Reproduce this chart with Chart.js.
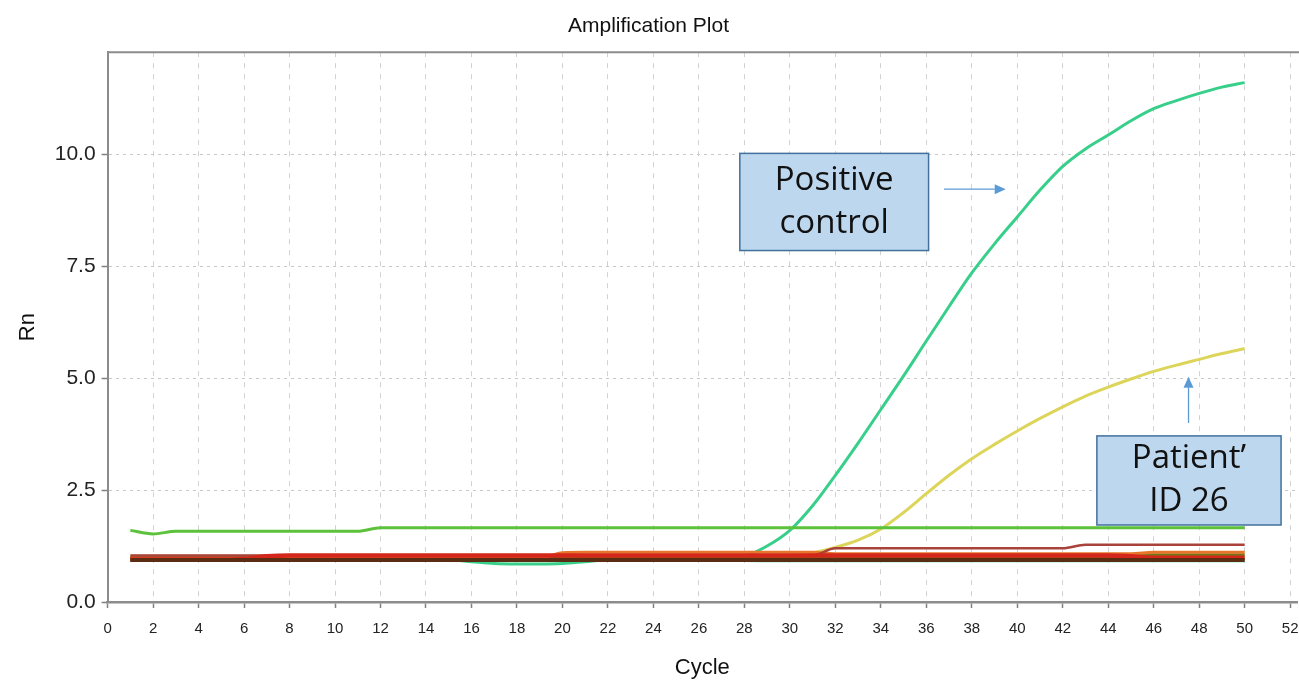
<!DOCTYPE html>
<html>
<head>
<meta charset="utf-8">
<title>Amplification Plot</title>
<script src="https://cdn.jsdelivr.net/npm/chart.js@4.4.1/dist/chart.umd.min.js"></script>
<style>
  html, body { margin: 0; padding: 0; background: #ffffff; }
  canvas { display: block; }
</style>
</head>
<body>
<canvas id="amp" width="1299" height="684"></canvas>
<script>
// PCR cycle numbers
const cycles = [1,2,3,4,5,6,7,8,9,10,11,12,13,14,15,16,17,18,19,20,21,22,23,24,25,26,27,28,29,30,31,32,33,34,35,36,37,38,39,40,41,42,43,44,45,46,47,48,49,50];

// Normalised reporter signal (Rn) per well
const positiveControl = [0.94,0.94,0.94,0.94,0.94,0.94,0.94,0.94,0.94,0.94,0.94,0.94,0.94,0.94,0.94,0.90,0.86,0.85,0.85,0.86,0.90,0.94,0.94,0.94,0.94,0.94,0.95,1.02,1.25,1.60,2.15,2.83,3.55,4.30,5.05,5.83,6.60,7.35,8.00,8.60,9.20,9.73,10.12,10.43,10.75,11.02,11.20,11.36,11.50,11.60];
const patient26 = [1.02,1.02,1.02,1.02,1.02,1.02,1.02,1.02,1.02,1.02,1.02,1.02,1.02,1.02,1.02,1.02,1.02,1.02,1.02,1.02,1.02,1.02,1.02,1.02,1.02,1.02,1.02,1.02,1.02,1.02,1.10,1.22,1.38,1.63,2.00,2.42,2.83,3.20,3.52,3.82,4.10,4.36,4.60,4.80,4.98,5.15,5.29,5.42,5.55,5.66];
const wellGreen = [1.60,1.52,1.58,1.58,1.58,1.58,1.58,1.58,1.58,1.58,1.58,1.66,1.66,1.66,1.66,1.66,1.66,1.66,1.66,1.66,1.66,1.66,1.66,1.66,1.66,1.66,1.66,1.66,1.66,1.66,1.66,1.66,1.66,1.66,1.66,1.66,1.66,1.66,1.66,1.66,1.66,1.66,1.66,1.66,1.66,1.66,1.66,1.66,1.66,1.66];
const wellBrown = [0.94,0.94,0.94,0.94,0.94,0.94,0.94,0.94,0.94,0.94,0.94,0.94,0.94,0.94,0.94,0.94,0.94,0.94,0.94,0.94,0.94,0.94,0.94,0.94,0.94,0.94,0.94,0.94,0.94,0.94,0.94,0.94,0.94,0.94,0.94,0.94,0.94,0.94,0.94,0.94,0.94,0.94,0.94,0.94,0.94,0.94,0.94,0.94,0.94,0.94];
const wellRed = [0.95,0.95,0.95,0.95,0.95,0.96,1.02,1.04,1.04,1.04,1.04,1.04,1.04,1.04,1.04,1.04,1.04,1.04,1.04,1.04,1.04,1.04,1.04,1.04,1.04,1.04,1.04,1.04,1.04,1.04,1.04,1.04,1.04,1.04,1.04,1.04,1.04,1.04,1.04,1.04,1.04,1.04,1.04,1.04,1.02,0.99,0.99,0.99,0.99,0.99];
const wellDarkRed = [1.04,1.04,1.04,1.04,1.04,1.04,1.04,1.04,1.04,1.04,1.04,1.04,1.04,1.04,1.04,1.04,1.04,1.04,1.04,1.04,1.04,1.04,1.04,1.04,1.04,1.04,1.04,1.04,1.04,1.04,1.04,1.20,1.20,1.20,1.20,1.20,1.20,1.20,1.20,1.20,1.20,1.20,1.28,1.28,1.28,1.28,1.28,1.28,1.28,1.28];
const wellOrange = [0.98,0.98,0.98,0.98,0.98,0.98,0.98,0.98,0.98,0.98,0.98,0.98,0.98,0.98,0.98,0.98,0.98,0.98,0.98,1.10,1.11,1.11,1.11,1.11,1.11,1.11,1.11,1.11,1.11,1.11,1.11,1.08,1.08,1.08,1.08,1.08,1.08,1.08,1.08,1.08,1.08,1.08,1.08,1.08,1.08,1.11,1.11,1.11,1.11,1.11];
const wellOlive = [0.99,0.99,0.99,0.99,0.99,0.99,0.99,0.99,0.99,0.99,0.99,0.99,0.99,0.99,0.99,0.99,0.99,0.99,0.99,0.99,0.99,0.99,0.99,0.99,0.99,0.99,0.99,0.99,0.99,0.99,0.99,0.99,0.99,0.99,0.99,0.99,0.99,0.99,0.99,0.99,0.99,0.99,0.99,0.99,1.02,1.05,1.05,1.05,1.05,1.05];
const wellCyan = [0.93,0.93,0.93,0.93,0.93,0.93,0.93,0.93,0.93,0.93,0.93,0.93,0.93,0.93,0.93,0.93,0.93,0.93,0.93,0.93,0.93,0.93,0.93,0.93,0.93,0.93,0.93,0.92,0.91,0.91,0.91,0.91,0.91,0.91,0.91,0.91,0.91,0.91,0.91,0.91,0.91,0.91,0.91,0.91,0.91,0.91,0.91,0.91,0.91,0.91];

// Axis tick labels
const xTickValues = [0,2,4,6,8,10,12,14,16,18,20,22,24,26,28,30,32,34,36,38,40,42,44,46,48,50,52];
const yTickValues = [0, 2.5, 5.0, 7.5, 10.0];

// Callout boxes, placed in axis units
const callouts = [
  { lines: ['Positive', 'control'], x0: 27.8, x1: 36.1, y0: 10.02, y1: 7.85,
    arrowFrom: [36.78, 9.22], arrowTo: [39.49, 9.22] },
  { lines: ['Patient\u2019', 'ID 26'], x0: 43.5, x1: 51.6, y0: 3.71, y1: 1.72,
    arrowFrom: [47.53, 4.0], arrowTo: [47.53, 5.03] }
];

function toPoints(values) {
  return cycles.map((c, i) => ({ x: c, y: values[i] }));
}

function well(label, values, color, width) {
  return {
    label: label,
    data: toPoints(values),
    borderColor: color,
    backgroundColor: color,
    borderWidth: width,
    pointRadius: 0,
    fill: false,
    cubicInterpolationMode: 'monotone'
  };
}

// Frame line along the top of the plot area
const framePlugin = {
  id: 'frame',
  beforeDatasetsDraw(chart) {
    const { ctx, chartArea } = chart;
    ctx.save();
    ctx.strokeStyle = '#8c8c8c';
    ctx.lineWidth = 2;
    ctx.beginPath();
    ctx.moveTo(chartArea.left, chartArea.top);
    ctx.lineTo(chartArea.right + 2, chartArea.top);
    ctx.stroke();
    ctx.restore();
  }
};

// Labelled boxes with pointer arrows
const calloutPlugin = {
  id: 'callouts',
  afterDatasetsDraw(chart) {
    const { ctx } = chart;
    const xs = chart.scales.x, ys = chart.scales.y;
    ctx.save();
    callouts.forEach(c => {
      const left = xs.getPixelForValue(c.x0), right = xs.getPixelForValue(c.x1);
      const top = ys.getPixelForValue(c.y0), bottom = ys.getPixelForValue(c.y1);
      ctx.fillStyle = '#bdd7ee';
      ctx.fillRect(left, top, right - left, bottom - top);
      ctx.strokeStyle = '#41719c';
      ctx.lineWidth = 1.5;
      ctx.strokeRect(left, top, right - left, bottom - top);

      ctx.fillStyle = '#111111';
      ctx.font = '33px "Open Sans", "Liberation Sans", sans-serif';
      ctx.textAlign = 'center';
      ctx.textBaseline = 'middle';
      const cx = (left + right) / 2, cy = (top + bottom) / 2;
      const gap = 43;
      c.lines.forEach((t, i) => {
        ctx.fillText(t, cx, cy + (i - (c.lines.length - 1) / 2) * gap);
      });

      const ax = xs.getPixelForValue(c.arrowFrom[0]), ay = ys.getPixelForValue(c.arrowFrom[1]);
      const bx = xs.getPixelForValue(c.arrowTo[0]), by = ys.getPixelForValue(c.arrowTo[1]);
      const ang = Math.atan2(by - ay, bx - ax);
      const head = 11, half = 5;
      ctx.strokeStyle = '#5b9bd5';
      ctx.fillStyle = '#5b9bd5';
      ctx.lineWidth = 1.3;
      ctx.beginPath();
      ctx.moveTo(ax, ay);
      ctx.lineTo(bx - Math.cos(ang) * head, by - Math.sin(ang) * head);
      ctx.stroke();
      ctx.beginPath();
      ctx.moveTo(bx, by);
      ctx.lineTo(bx - Math.cos(ang) * head - Math.sin(ang) * half, by - Math.sin(ang) * head + Math.cos(ang) * half);
      ctx.lineTo(bx - Math.cos(ang) * head + Math.sin(ang) * half, by - Math.sin(ang) * head - Math.cos(ang) * half);
      ctx.closePath();
      ctx.fill();
    });
    ctx.restore();
  }
};

const fontFamily = '"Liberation Sans", Arial, sans-serif';

new Chart(document.getElementById('amp'), {
  type: 'line',
  data: {
    datasets: [
      well('Well A1', wellBrown, '#5a2d12', 4),
      well('Well A2', wellRed, '#d4261a', 4.5),
      well('Well A3', wellDarkRed, '#a8423a', 2.5),
      well('Well A4', wellOrange, '#e8762a', 3),
      well('Well A5', wellGreen, '#5cc23b', 3),
      well('Well A6', wellOlive, '#6f7a16', 3.5),
      well('Patient ID 26', patient26, '#ddd55a', 3),
      well('Positive control', positiveControl, '#38cf8a', 3),
      well('Well A7', wellCyan, '#9cf0d4', 2.5)
    ]
  },
  options: {
    responsive: false,
    animation: false,
    events: [],
    layout: { padding: { left: 0, right: 2, top: 0, bottom: 0 } },
    plugins: {
      legend: { display: false },
      tooltip: { enabled: false },
      title: {
        display: true,
        text: 'Amplification Plot',
        color: '#111111',
        font: { family: fontFamily, size: 21, weight: 'normal' },
        padding: { top: 14, bottom: 13 }
      }
    },
    scales: {
      x: {
        type: 'linear',
        min: 0,
        max: 52.3,
        afterBuildTicks(scale) { scale.ticks = xTickValues.map(v => ({ value: v })); },
        afterFit(scale) {
          scale.height = 82;
          scale.paddingLeft = 0;
          scale.paddingRight = 0;
        },
        ticks: {
          color: '#222222',
          font: { family: fontFamily, size: 15 },
          padding: 12,
          maxRotation: 0,
          autoSkip: false,
          callback: v => String(v)
        },
        grid: {
          color: '#d2d2d2',
          tickBorderDash: [],
          tickColor: '#808080',
          tickLength: 6,
          tickWidth: 1.5
        },
        border: { display: true, color: '#8c8c8c', width: 2.5, dash: [5, 6] },
        title: {
          display: true,
          text: 'Cycle',
          color: '#111111',
          font: { family: fontFamily, size: 22 },
          padding: { top: 0, bottom: 3 }
        }
      },
      y: {
        type: 'linear',
        min: 0,
        max: 12.28,
        afterBuildTicks(scale) { scale.ticks = yTickValues.map(v => ({ value: v })); },
        afterFit(scale) {
          scale.width = 107.6;
          scale.paddingTop = 0;
          scale.paddingBottom = 0;
        },
        ticks: {
          color: '#222222',
          font: { family: fontFamily, size: 21 },
          padding: 6,
          callback: v => Number(v).toFixed(1)
        },
        grid: {
          color: '#c8c8c8',
          tickBorderDash: [],
          tickColor: '#808080',
          tickLength: 6,
          tickWidth: 1.5
        },
        border: { display: true, color: '#8c8c8c', width: 2, dash: [3, 4] },
        title: {
          display: true,
          text: 'Rn',
          color: '#111111',
          font: { family: fontFamily, size: 22 },
          padding: { top: 15, bottom: 0 }
        }
      }
    }
  },
  plugins: [framePlugin, calloutPlugin]
});
</script>
</body>
</html>
